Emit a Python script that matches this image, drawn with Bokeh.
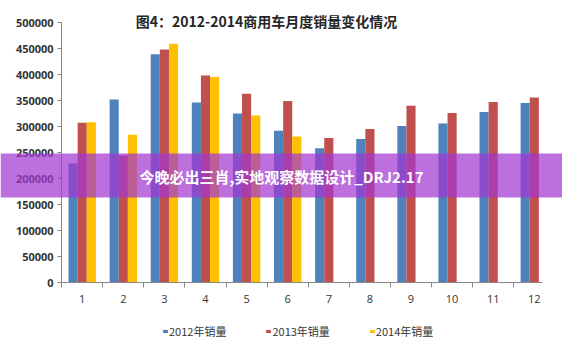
from bokeh.plotting import figure
from bokeh.models import (ColumnDataSource, FixedTicker, Range1d, Label, Legend, LegendItem,
                          BasicTickFormatter, BoxAnnotation)
from bokeh.transform import dodge
from bokeh.embed import file_html
from bokeh.resources import INLINE

# ---- data ----
months = [1, 2, 3, 4, 5, 6, 7, 8, 9, 10, 11, 12]
month_labels = ["1", "2", "3", "4", "5", "6", "7", "8", "9", "10", "11", "12"]
sales_2012 = [229000, 352000, 439000, 346000, 325000, 292000, 258000, 276000, 301000, 306000, 328000, 345000]
sales_2013 = [307000, 244000, 448000, 398000, 363000, 349000, 278000, 295000, 340000, 326000, 347000, 356000]
sales_2014 = [308000, 284000, 459000, 395000, 321000, 281000, None, None, None, None, None, None]
series_names = ["2012年销量", "2013年销量", "2014年销量"]
series_colors = ["#4F81BD", "#C0504D", "#FFC000"]
y_ticks = [0, 50000, 100000, 150000, 200000, 250000, 300000, 350000, 400000, 450000, 500000]
y_max = 500000
title_text = "图4：2012-2014商用车月度销量变化情况"
banner_text = "今晚必出三肖,实地观察数据设计_DRJ2.17"

# ---- layout (pixels) ----
W, H = 562, 353
CAT_PX = 41.1          # width of one month slot
X1_PX = 81.7           # pixel column of month 1
Y0_PX, YMAX_PX = 282, 22   # pixel rows of 0 and 500000

x_lo = 1 - X1_PX / CAT_PX
x_hi = 1 + (W - X1_PX) / CAT_PX
per_px = y_max / (Y0_PX - YMAX_PX)
y_lo = -(H - Y0_PX) * per_px
y_hi = y_max + YMAX_PX * per_px

src = ColumnDataSource(dict(x=months, y12=sales_2012, y13=sales_2013,
                            y14=[v if v is not None else float("nan") for v in sales_2014]))

p = figure(width=W, height=H, output_backend="svg", toolbar_location=None,
           x_range=Range1d(x_lo, x_hi), y_range=Range1d(y_lo, y_hi), min_border=0)
p.outline_line_color = None
p.xgrid.visible = False
p.ygrid.visible = False

bw = 0.222
renderers = []
for col, off, color in zip(["y12", "y13", "y14"], [-bw, 0, bw], series_colors):
    r = p.vbar(x=dodge("x", off, range=p.x_range), top=col, width=bw, source=src,
               fill_color=color, line_color=None)
    renderers.append(r)

# x axis at y = 0: labels at months, tick marks between them
ax = p.xaxis[0]
ax.fixed_location = 0
ax.bounds = (0.5, 12.2)
ax.ticker = FixedTicker(ticks=months, minor_ticks=[m - 0.5 for m in months])
ax.major_label_overrides = {m: l for m, l in zip(months, month_labels)}
ax.major_tick_line_color = None
ax.minor_tick_in = 0
ax.minor_tick_out = 5
ax.minor_tick_line_color = "#868686"
ax.axis_line_color = "#868686"
ax.major_label_text_font = "Open Sans"
ax.major_label_text_font_size = "11px"
ax.major_label_text_color = "#333333"
ax.major_label_standoff = 6

# y axis at the left edge of month 1
ay = p.yaxis[0]
ay.fixed_location = 0.5
ay.bounds = (0, y_max)
ay.ticker = FixedTicker(ticks=y_ticks)
ay.formatter = BasicTickFormatter(use_scientific=False)
ay.major_tick_in = 0
ay.major_tick_out = 4
ay.minor_tick_line_color = None
ay.major_tick_line_color = "#868686"
ay.axis_line_color = "#868686"
ay.major_label_text_font = "Open Sans"
ay.major_label_text_font_size = "11px"
ay.major_label_text_font_style = "bold"
ay.major_label_text_color = "#333333"
ay.major_label_standoff = 4

# title
p.add_layout(Label(x=266, y=H - 20, x_units="screen", y_units="screen",
                   text=title_text, text_font="Noto Sans CJK SC", text_font_style="bold",
                   text_font_size="14px", text_color="#262626",
                   text_align="center", text_baseline="middle"))

# legend
items = [LegendItem(label=n, renderers=[r]) for n, r in zip(series_names, renderers)]
legend = Legend(items=items, orientation="horizontal", location=(162, 14),
                border_line_color=None, background_fill_alpha=0, padding=0, margin=0,
                spacing=39, glyph_width=6, glyph_height=4, label_standoff=1,
                label_text_font="Noto Sans CJK SC", label_text_font_size="11px",
                label_text_color="#333333", label_height=12)
p.add_layout(legend, "center")

# banner overlay across the full width
p.add_layout(BoxAnnotation(bottom=H - 197, top=H - 153, bottom_units="screen", top_units="screen",
                           fill_color="#a238d0", fill_alpha=0.72, line_color=None))
p.add_layout(Label(x=281, y=H - 176, x_units="screen", y_units="screen",
                   text=banner_text, text_font="Noto Sans CJK SC", text_font_style="bold",
                   text_font_size="15px", text_color="white",
                   text_align="center", text_baseline="middle"))

open("out.html", "w").write(file_html(p, INLINE))
